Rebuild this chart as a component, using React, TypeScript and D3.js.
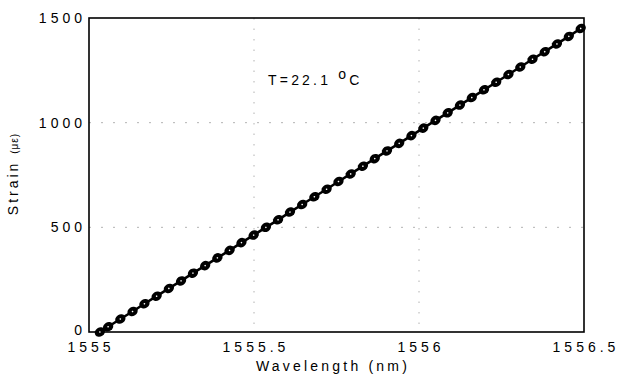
import React from "react";
import * as d3 from "d3";

const wavelengths = [
  1555.033, 1555.058, 1555.095, 1555.132, 1555.168, 1555.205, 1555.242, 1555.279,
  1555.315, 1555.352, 1555.389, 1555.426, 1555.462, 1555.499, 1555.536, 1555.573,
  1555.609, 1555.646, 1555.683, 1555.72, 1555.756, 1555.793, 1555.83, 1555.866,
  1555.903, 1555.94, 1555.977, 1556.013, 1556.05, 1556.087, 1556.124, 1556.16,
  1556.197, 1556.234, 1556.271, 1556.307, 1556.344, 1556.381, 1556.418, 1556.454,
  1556.49,
];
const strains = [
  0, 25, 62, 98, 135, 171, 208, 244, 281, 317, 354, 390, 427, 463, 500, 536, 573,
  609, 646, 682, 719, 755, 792, 828, 865, 901, 938, 974, 1011, 1047, 1084, 1120,
  1157, 1193, 1230, 1266, 1303, 1339, 1376, 1412, 1450,
];
const xTicks = [1555, 1555.5, 1556, 1556.5];
const xTickLabels = ["1555", "1555.5", "1556", "1556.5"];
const yTicks = [0, 500, 1000, 1500];
const xGrid = [1555.5, 1556];
const yGrid = [500, 1000];

const W = 618;
const H = 376;
const left = 89;
const right = 584;
const top = 18;
const bottom = 332;

export default function App() {
  const x = d3.scaleLinear().domain([1555, 1556.5]).range([left, right]);
  const y = d3.scaleLinear().domain([0, 1500]).range([bottom, top]);
  const pts = wavelengths.map((w, i) => [w, strains[i]] as [number, number]);
  const line = d3
    .line<[number, number]>()
    .x((d) => x(d[0]))
    .y((d) => y(d[1]));
  const font = "'Liberation Sans', Arial, sans-serif";
  const angle = (Math.atan2(y(1450) - y(0), x(1556.49) - x(1555.033)) * 180) / Math.PI;
  return (
    <svg
      width={W}
      height={H}
      style={{ position: "absolute", left: 0, top: 0, background: "#fff" }}
      fontFamily={font}
    >
      <rect x={0} y={0} width={W} height={H} fill="#fff" />
      {xGrid.map((g) => (
        <line
          key={"xg" + g}
          x1={x(g)}
          x2={x(g)}
          y1={top}
          y2={bottom}
          stroke="#a0a0a0"
          strokeWidth={0.8}
          strokeDasharray="1.5,9"
        />
      ))}
      {yGrid.map((g) => (
        <line
          key={"yg" + g}
          x1={left}
          x2={right}
          y1={y(g)}
          y2={y(g)}
          stroke="#a0a0a0"
          strokeWidth={0.8}
          strokeDasharray="2,10"
        />
      ))}
      <rect
        x={left}
        y={top}
        width={right - left}
        height={bottom - top}
        fill="none"
        stroke="#000"
        strokeWidth={1.6}
      />
      <path d={line(pts) || ""} fill="none" stroke="#000" strokeWidth={2.6} />
      {pts.map((p, i) => (
        <g key={"m" + i} transform={`translate(${x(p[0])},${y(p[1])}) rotate(${angle})`}>
          <ellipse cx={0} cy={0} rx={5.4} ry={4.5} fill="#000" />
          <circle cx={0} cy={0} r={0.8} fill="#fff" />
        </g>
      ))}
      {yTicks.map((t) => (
        <text
          key={"yt" + t}
          x={86}
          y={y(t) - (t === 0 ? 2 : 0)}
          dy="0.35em"
          textAnchor="end"
          fontSize={14}
          letterSpacing={4}
          fill="#000"
        >
          {String(t)}
        </text>
      ))}
      {xTicks.map((t, i) => (
        <text
          key={"xt" + t}
          x={x(t) + 2}
          y={352}
          textAnchor="middle"
          fontSize={14}
          letterSpacing={4}
          fill="#000"
        >
          {xTickLabels[i]}
        </text>
      ))}
      <text
        x={333}
        y={371}
        textAnchor="middle"
        fontSize={14}
        letterSpacing={3.2}
        fill="#000"
      >
        Wavelength (nm)
      </text>
      <text
        transform="translate(18,174) rotate(-90)"
        textAnchor="middle"
        fontSize={14}
        letterSpacing={3}
        fill="#000"
      >
        Strain <tspan fontSize={10} letterSpacing={1}>(με)</tspan>
      </text>
      <text x={268} y={85} fontSize={14} letterSpacing={3.2} fill="#000">
        T=22.1 <tspan dy={-6}>o</tspan>
        <tspan dy={6}>C</tspan>
      </text>
    </svg>
  );
}
